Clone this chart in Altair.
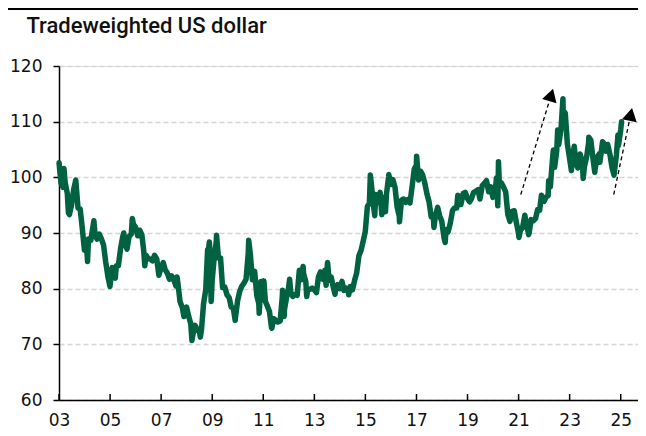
import altair as alt
import pandas as pd

# ---- data (trade-weighted US dollar index) ----
dates = [
    "2003-01-02", "2003-01-15", "2003-01-31", "2003-02-28", "2003-03-13", "2003-03-31", "2003-04-30", "2003-05-16", "2003-05-30", "2003-06-30", "2003-07-31", "2003-08-29", "2003-09-30", "2003-10-31", "2003-11-28", "2003-12-31",
    "2004-01-30", "2004-02-13", "2004-02-27", "2004-03-31", "2004-04-30", "2004-05-14", "2004-05-31", "2004-06-30", "2004-07-30", "2004-08-31", "2004-09-30", "2004-10-29", "2004-11-30", "2004-12-30",
    "2005-01-31", "2005-02-28", "2005-03-16", "2005-03-31", "2005-04-29", "2005-05-31", "2005-06-30", "2005-07-15", "2005-07-29", "2005-08-31", "2005-09-30", "2005-10-31", "2005-11-15", "2005-11-30", "2005-12-30",
    "2006-01-31", "2006-02-28", "2006-03-31", "2006-04-28", "2006-05-12", "2006-05-31", "2006-06-30", "2006-07-31", "2006-08-31", "2006-09-29", "2006-10-31", "2006-11-30", "2006-12-29",
    "2007-01-31", "2007-02-28", "2007-03-30", "2007-04-30", "2007-05-31", "2007-06-29", "2007-07-31", "2007-08-16", "2007-08-31", "2007-09-28", "2007-10-31", "2007-11-23", "2007-11-30", "2007-12-31",
    "2008-01-31", "2008-02-29", "2008-03-17", "2008-03-31", "2008-04-30", "2008-05-30", "2008-06-30", "2008-07-15", "2008-07-31", "2008-08-29", "2008-09-30", "2008-10-27", "2008-10-31", "2008-11-21", "2008-11-28", "2008-12-17", "2008-12-31",
    "2009-01-30", "2009-02-27", "2009-03-04", "2009-03-31", "2009-04-30", "2009-05-29", "2009-06-30", "2009-07-31", "2009-08-31", "2009-09-30", "2009-10-30", "2009-11-25", "2009-11-30", "2009-12-31",
    "2010-01-29", "2010-02-26", "2010-03-31", "2010-04-30", "2010-05-31", "2010-06-07", "2010-06-30", "2010-07-30", "2010-08-31", "2010-09-30", "2010-10-29", "2010-11-04", "2010-11-30", "2010-12-31",
    "2011-01-10", "2011-01-31", "2011-02-28", "2011-03-31", "2011-04-29", "2011-05-04", "2011-05-31", "2011-06-30", "2011-07-29", "2011-08-31", "2011-09-30", "2011-10-04", "2011-10-27", "2011-10-31", "2011-11-30", "2011-12-30",
    "2012-01-13", "2012-01-31", "2012-02-29", "2012-03-30", "2012-04-30", "2012-05-31", "2012-06-29", "2012-07-24", "2012-07-31", "2012-08-31", "2012-09-14", "2012-09-28", "2012-10-31", "2012-11-30", "2012-12-31",
    "2013-01-31", "2013-02-28", "2013-03-29", "2013-04-30", "2013-05-31", "2013-06-18", "2013-06-28", "2013-07-09", "2013-07-31", "2013-08-30", "2013-09-30", "2013-10-24", "2013-10-31", "2013-11-29", "2013-12-31",
    "2014-01-31", "2014-02-28", "2014-03-31", "2014-04-30", "2014-05-08", "2014-05-30", "2014-06-30", "2014-07-31", "2014-08-29", "2014-09-30", "2014-10-31", "2014-11-28", "2014-12-31",
    "2015-01-30", "2015-02-27", "2015-03-13", "2015-03-31", "2015-04-30", "2015-05-15", "2015-05-29", "2015-06-30", "2015-07-31", "2015-08-24", "2015-08-31", "2015-09-30", "2015-10-15", "2015-10-30", "2015-11-30", "2015-12-02", "2015-12-31",
    "2016-01-29", "2016-02-29", "2016-03-31", "2016-04-29", "2016-05-03", "2016-05-31", "2016-06-30", "2016-07-29", "2016-08-31", "2016-09-30", "2016-10-31", "2016-11-30", "2016-12-30",
    "2017-01-03", "2017-01-31", "2017-02-28", "2017-03-31", "2017-04-28", "2017-05-31", "2017-06-30", "2017-07-31", "2017-08-31", "2017-09-08", "2017-09-29", "2017-10-31", "2017-11-30", "2017-12-29",
    "2018-01-31", "2018-02-16", "2018-02-28", "2018-03-29", "2018-04-30", "2018-05-31", "2018-06-29", "2018-07-31", "2018-08-15", "2018-08-31", "2018-09-28", "2018-10-31", "2018-11-30", "2018-12-31",
    "2019-01-31", "2019-02-28", "2019-03-29", "2019-04-30", "2019-05-31", "2019-06-28", "2019-07-31", "2019-08-30", "2019-09-30", "2019-10-31", "2019-11-29", "2019-12-31",
    "2020-01-31", "2020-02-19", "2020-02-28", "2020-03-09", "2020-03-19", "2020-03-31", "2020-04-30", "2020-05-29", "2020-06-30", "2020-07-31", "2020-08-31", "2020-09-30", "2020-10-30", "2020-11-30", "2020-12-31",
    "2021-01-06", "2021-01-29", "2021-02-26", "2021-03-31", "2021-04-30", "2021-05-25", "2021-05-31", "2021-06-30", "2021-07-30", "2021-08-31", "2021-09-30", "2021-10-29", "2021-11-24", "2021-11-30", "2021-12-31",
    "2022-01-31", "2022-02-28", "2022-03-07", "2022-03-31", "2022-04-29", "2022-05-13", "2022-05-31", "2022-06-30", "2022-07-14", "2022-07-29", "2022-08-31", "2022-09-27", "2022-09-30", "2022-10-31", "2022-11-30", "2022-12-30",
    "2023-01-26", "2023-01-31", "2023-02-28", "2023-03-08", "2023-03-31", "2023-04-28", "2023-05-31", "2023-06-30", "2023-07-14", "2023-07-31", "2023-08-31", "2023-09-29", "2023-10-03", "2023-10-31", "2023-11-30", "2023-12-27", "2023-12-29",
    "2024-01-31", "2024-02-29", "2024-03-08", "2024-03-28", "2024-04-16", "2024-04-30", "2024-05-31", "2024-06-28", "2024-07-31", "2024-08-30", "2024-09-27", "2024-09-30", "2024-10-31", "2024-11-22", "2024-11-29", "2024-12-31",
    "2025-01-13",
]
values = [
    102.6, 100.8, 98.9, 98.2, 101.6, 99.0, 97.1, 93.6, 93.3, 95.1, 97.9, 99.5, 94.5, 94.3, 91.1, 86.9,
    88.1, 84.9, 88.9, 88.7, 91.1, 92.2, 89.6, 88.9, 89.8, 88.9, 87.8, 84.9, 82.2, 80.4,
    83.8, 82.1, 81.9, 84.1, 84.1, 87.2, 89.3, 90.0, 88.2, 87.1, 89.4, 89.8, 92.6, 91.6, 91.1,
    89.5, 90.5, 89.7, 86.7, 84.1, 86.0, 85.4, 85.3, 85.0, 86.0, 85.3, 82.4, 83.7,
    84.7, 83.4, 82.8, 81.7, 82.3, 81.7, 80.5, 82.1, 80.8, 77.7, 76.6, 75.0, 76.1, 76.7,
    75.0, 73.7, 70.7, 71.8, 73.4, 72.7, 72.4, 71.3, 72.6, 77.2, 79.8, 87.0, 86.0, 88.4, 86.8, 77.7, 81.4,
    85.7, 88.4, 89.6, 85.5, 85.5, 80.2, 80.3, 78.9, 78.4, 76.7, 76.5, 74.3, 74.9, 77.9,
    79.5, 80.4, 81.0, 81.7, 86.3, 88.7, 86.2, 81.6, 83.1, 78.8, 77.3, 75.6, 81.3, 79.0,
    81.4, 77.7, 76.9, 75.9, 73.0, 72.9, 74.6, 74.3, 74.0, 74.2, 78.5, 79.7, 75.0, 76.2, 78.4, 80.2,
    81.7, 79.2, 78.6, 79.0, 78.8, 83.3, 81.6, 84.0, 82.7, 81.3, 78.6, 79.9, 79.9, 80.1, 79.8,
    79.3, 82.1, 83.0, 81.7, 83.3, 80.6, 83.1, 84.7, 81.5, 82.1, 80.2, 79.0, 80.2, 80.7, 80.0,
    81.3, 79.7, 80.1, 79.5, 78.9, 80.4, 79.8, 81.5, 82.8, 85.9, 86.9, 88.4, 90.3,
    94.8, 95.3, 100.4, 98.4, 94.6, 93.1, 96.9, 95.5, 97.3, 93.3, 95.8, 96.4, 93.8, 97.0, 100.2, 100.5, 98.7,
    99.6, 98.2, 94.6, 93.1, 92.0, 95.9, 96.1, 95.5, 96.0, 95.4, 98.4, 101.5, 102.2,
    103.8, 99.5, 101.1, 100.4, 99.1, 97.0, 95.6, 92.9, 92.7, 91.0, 93.1, 94.6, 93.0, 92.1,
    89.1, 88.3, 90.6, 90.2, 91.8, 94.0, 94.5, 94.5, 96.8, 95.1, 95.1, 97.1, 97.3, 96.2,
    95.6, 96.2, 97.3, 97.5, 97.8, 96.1, 98.5, 98.9, 99.4, 97.4, 98.3, 96.4,
    97.4, 99.9, 98.1, 94.9, 102.8, 99.0, 99.0, 98.3, 97.4, 93.3, 92.1, 93.9, 94.0, 91.9, 89.9,
    89.2, 90.6, 90.9, 93.2, 91.3, 89.7, 90.0, 92.4, 92.2, 92.6, 94.2, 94.1, 96.8, 96.0, 95.7,
    96.5, 96.7, 99.4, 98.3, 103.0, 104.9, 101.8, 104.7, 108.5, 105.9, 108.7, 114.1, 112.1, 111.5, 105.9, 103.5,
    101.2, 102.1, 104.9, 105.6, 102.5, 101.7, 104.2, 102.9, 99.8, 101.9, 103.6, 106.2, 107.2, 106.7, 103.5, 100.9, 101.3,
    103.6, 104.2, 102.7, 104.5, 106.4, 106.2, 104.7, 105.9, 104.1, 101.7, 100.4, 100.8, 104.0, 107.6, 105.7, 108.5,
    110.0,
]

tick_years = list(range(2003, 2026, 2))
y_ticks = [60, 70, 80, 90, 100, 110, 120]

# dashed arrows (tail -> head), in data units, with head rotation
arrow_start_date = ["2021-02-01", "2024-09-23"]
arrow_start_value = [96.9, 96.9]
arrow_end_date = ["2022-04-12", "2025-05-24"]
arrow_end_value = [114.8, 111.3]
arrow_angle = [17, 12]

title_text = "Tradeweighted US dollar"

# ---- build ----
W, H = 579, 334
PAD = {"left": 51, "top": 58, "right": 0, "bottom": 28}
GREEN = "#006241"
LABEL_FONT = "DejaVu Sans"

df = pd.DataFrame({"date": pd.to_datetime(dates), "value": values})
ticks_df = pd.DataFrame({"date": pd.to_datetime([f"{y}-01-01" for y in tick_years])})
arrows_df = pd.DataFrame({
    "x0": pd.to_datetime(arrow_start_date), "y0": arrow_start_value,
    "x1": pd.to_datetime(arrow_end_date), "y1": arrow_end_value,
    "ang": arrow_angle,
})
one = pd.DataFrame({"k": [0]})

x_scale = alt.Scale(domain=[alt.DateTime(year=2003, month=1, date=1),
                            alt.DateTime(year=2025, month=9, date=5)])
y_scale = alt.Scale(domain=[60, 120], nice=False, zero=False)

x_axis = alt.Axis(
    values=[alt.DateTime(year=y, month=1, date=1) for y in tick_years],
    format="%y", ticks=False, grid=False, title=None,
    domainColor="#000000", domainWidth=1.5,
    labelFont=LABEL_FONT, labelFontSize=17, labelColor="#111111",
    labelPadding=12, labelFlush=False,
)
y_axis = alt.Axis(
    values=y_ticks, title=None, grid=True,
    gridDash=[5, 3], gridColor="#d4d4d4", gridWidth=1.5,
    tickSize=6, tickColor="#000000", tickWidth=1.5,
    domainColor="#000000", domainWidth=1.5,
    labelFont=LABEL_FONT, labelFontSize=17, labelColor="#111111",
    labelPadding=11,
)

line = alt.Chart(df).mark_line(
    color=GREEN, strokeWidth=5.5, strokeJoin="round", strokeCap="round"
).encode(
    x=alt.X("date:T", scale=x_scale, axis=x_axis),
    y=alt.Y("value:Q", scale=y_scale, axis=y_axis),
)

xticks = alt.Chart(ticks_df).mark_rule(color="#000000", strokeWidth=1.5).encode(
    x=alt.X("date:T", scale=x_scale),
    y=alt.value(H), y2=alt.value(H - 6),
)

arrow_lines = alt.Chart(arrows_df).mark_rule(
    color="#000000", strokeWidth=1.3, strokeDash=[4, 3]
).encode(
    x=alt.X("x0:T", scale=x_scale), y=alt.Y("y0:Q", scale=y_scale),
    x2="x1:T", y2="y1:Q",
)
arrow_heads = alt.Chart(arrows_df).mark_point(
    shape="triangle-up", filled=True, size=225,
    color="#000000", opacity=1,
).encode(
    x=alt.X("x1:T", scale=x_scale), y=alt.Y("y1:Q", scale=y_scale),
    angle=alt.Angle("ang:Q", scale=None),
)

top_rule = alt.Chart(one).mark_rule(color="#000000", strokeWidth=2).encode(
    x=alt.value(-PAD["left"]), x2=alt.value(W), y=alt.value(-PAD["top"] + 1),
)

chart = alt.layer(
    line, top_rule, xticks, arrow_lines, arrow_heads
).properties(
    width=W, height=H,
    title=alt.TitleParams(
        title_text, anchor="start", frame="group", dx=-32.6,
        font="Roboto", fontSize=22, fontWeight=500, color="#111111",
        baseline="alphabetic", offset=0, dy=47,
    ),
    autosize=alt.AutoSizeParams(type="none"),
    padding=PAD,
).configure_view(stroke=None).configure(background="#ffffff")

chart.save("out.html", embed_options={"renderer": "svg", "actions": False})
